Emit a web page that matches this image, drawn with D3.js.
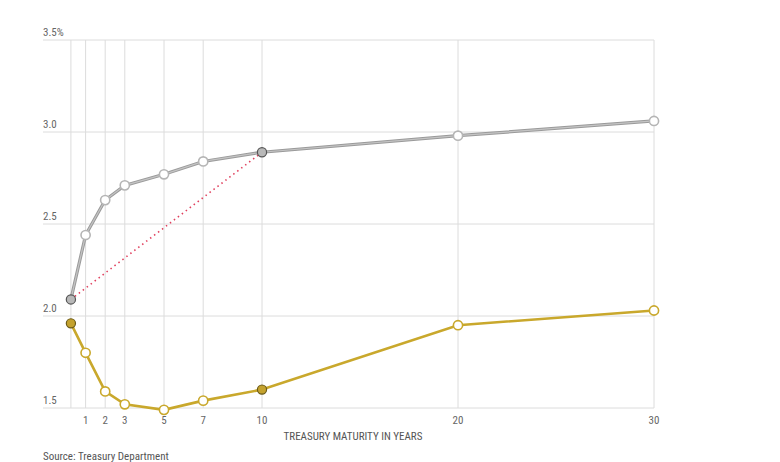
<!DOCTYPE html>
<html><head><meta charset="utf-8">
<script src="https://cdn.jsdelivr.net/npm/d3@7"></script>
<style>
body{margin:0;background:#fff;}
text{font-family:"Liberation Sans Narrow","Roboto Condensed","Liberation Sans",sans-serif;}
</style></head>
<body><svg id="c" width="780" height="462"></svg>
<script>
const maturities = [0.25, 1, 2, 3, 5, 7, 10, 20, 30];
const tickLabels = ["", "1", "2", "3", "5", "7", "10", "20", "30"];
const grayYields = [2.09, 2.44, 2.63, 2.71, 2.77, 2.84, 2.89, 2.98, 3.06];
const goldYields = [1.96, 1.80, 1.59, 1.52, 1.49, 1.54, 1.60, 1.95, 2.03];
const highlighted = [0.25, 10];
const yTicks = [1.5, 2.0, 2.5, 3.0, 3.5];
const yTickLabels = ["1.5", "2.0", "2.5", "3.0", "3.5%"];

const svg = d3.select("#c");
const x = d3.scaleLinear().domain([1, 30]).range([85.6, 654]);
const y = d3.scaleLinear().domain([1.5, 3.5]).range([408, 40]);
const left = 43, right = 654;

// horizontal grid
svg.append("g").selectAll("line").data(yTicks).join("line")
  .attr("x1", left).attr("x2", right)
  .attr("y1", d => y(d)).attr("y2", d => y(d))
  .attr("stroke", "#dcdcdc").attr("stroke-width", 1);
svg.append("g").selectAll("text").data(yTicks).join("text")
  .attr("x", left).attr("y", d => y(d) - 4)
  .attr("font-size", 11).attr("fill", "#666")
  .text((d, i) => yTickLabels[i]);

// vertical grid
svg.append("g").selectAll("line").data(maturities).join("line")
  .attr("x1", d => x(d)).attr("x2", d => x(d))
  .attr("y1", y(3.5)).attr("y2", y(1.5))
  .attr("stroke", "#dcdcdc").attr("stroke-width", 1);
svg.append("g").selectAll("text").data(maturities).join("text")
  .attr("x", d => x(d)).attr("y", 424)
  .attr("text-anchor", "middle").attr("font-size", 11).attr("fill", "#666")
  .text((d, i) => tickLabels[i]);

svg.append("text").attr("x", 353).attr("y", 440).attr("text-anchor", "middle")
  .attr("font-size", 11).attr("fill", "#555").text("TREASURY MATURITY IN YEARS");
svg.append("text").attr("x", left).attr("y", 460)
  .attr("font-size", 11).attr("fill", "#555").text("Source: Treasury Department");

const line = d3.line().x(d => x(d[0])).y(d => y(d[1]));
const gray = maturities.map((m, i) => [m, grayYields[i]]);
const gold = maturities.map((m, i) => [m, goldYields[i]]);

svg.append("path").attr("d", line(gray)).attr("fill", "none")
  .attr("stroke", "#9a9a9a").attr("stroke-width", 3.2);
svg.append("path").attr("d", line(gray)).attr("fill", "none")
  .attr("stroke", "#c4c4c4").attr("stroke-width", 1.2);
svg.append("path").attr("d", line(gold)).attr("fill", "none")
  .attr("stroke", "#c9a82c").attr("stroke-width", 2.6);

// dotted connector
const g0 = gray[0], g10 = gray[maturities.indexOf(10)];
svg.append("path").attr("d", line([g0, g10])).attr("fill", "none")
  .attr("stroke", "#e0405e").attr("stroke-width", 1.6).attr("stroke-dasharray", "1.5,3.5");

function dots(data, col, fillCol, darkStroke) {
  svg.append("g").selectAll("circle").data(data).join("circle")
    .attr("cx", d => x(d[0])).attr("cy", d => y(d[1])).attr("r", 4.6)
    .attr("fill", d => highlighted.includes(d[0]) ? fillCol : "#fff")
    .attr("stroke", d => highlighted.includes(d[0]) ? darkStroke : col)
    .attr("stroke-width", d => highlighted.includes(d[0]) ? 1.2 : 1.6);
}
dots(gray, "#b5b5b5", "#b8b8b8", "#555");
dots(gold, "#c9a82c", "#c4a22e", "#6b5a18");
</script></body></html>
